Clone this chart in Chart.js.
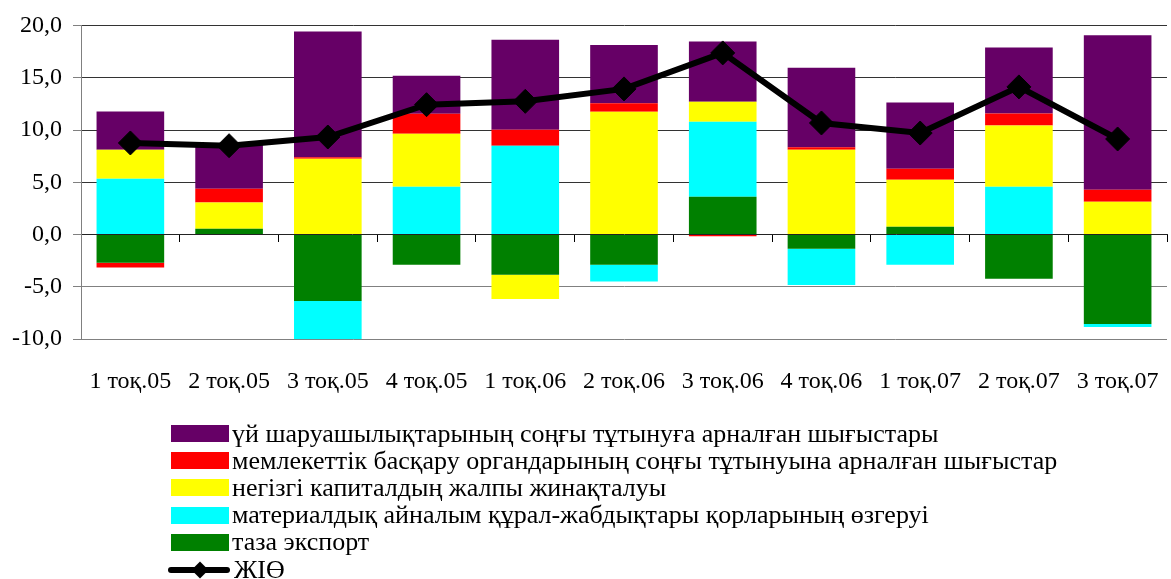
<!DOCTYPE html>
<html>
<head>
<meta charset="utf-8">
<script src="https://cdn.jsdelivr.net/npm/chart.js@4/dist/chart.umd.min.js"></script>
<style>
  body { margin: 0; overflow: hidden; background: #fff; }
  #wrap { position: relative; width: 1171px; height: 579px; overflow: hidden; }
  #chart { position: absolute; left: 0; top: 0; }
  #legend { position: absolute; left: 166px; top: 420px; font-family: "Liberation Serif", "Times New Roman", "DejaVu Serif", serif; font-size: 26px; color: #000; }
  .item { height: 27.2px; display: flex; align-items: center; white-space: nowrap; }
  .box { width: 58px; height: 17px; margin: 0 3px 0 5px; }
  .lineKey { position: relative; width: 62px; height: 17px; margin: 0 4px 0 2px; }
  .lineKey .bar { position: absolute; left: 0; right: 0; top: 6px; height: 6px; background: #000; border-radius: 3px; }
  .lineKey .dia { position: absolute; left: 26px; top: 3px; width: 12px; height: 12px; background: #000; transform: rotate(45deg); }
</style>
</head>
<body>
<div id="wrap">
  <canvas id="chart" width="1180" height="579"></canvas>
  <div id="legend"></div>
</div>
<script>
// quarters
const labels = ['1 тоқ.05', '2 тоқ.05', '3 тоқ.05', '4 тоқ.05', '1 тоқ.06', '2 тоқ.06',
                '3 тоқ.06', '4 тоқ.06', '1 тоқ.07', '2 тоқ.07', '3 тоқ.07'];

// contributions to growth, percentage points
const netExport  = [-2.70, 0.56, -6.34, -2.89, -3.85, -2.89, 3.62, -1.36, 0.75, -4.23, -8.54];
const inventory  = [5.34, 0, -3.67, 4.58, 8.50, -1.60, 7.18, -3.45, -2.89, 4.58, -0.29];
const capital    = [2.78, 2.52, 7.26, 5.07, -2.30, 11.75, 1.91, 8.12, 4.50, 5.84, 3.14];
const government = [-0.44, 1.31, 0.13, 1.91, 1.53, 0.80, -0.15, 0.22, 1.05, 1.15, 1.15];
const households = [3.64, 4.21, 12.03, 3.63, 8.61, 5.58, 5.75, 7.60, 6.32, 6.32, 14.77];
const gdp        = [8.76, 8.50, 9.33, 12.42, 12.74, 13.93, 17.37, 10.67, 9.71, 14.12, 9.14];

const yTicks = [-10, -5, 0, 5, 10, 15, 20];

const FONT = "'Liberation Serif', 'Times New Roman', 'DejaVu Serif', serif";

function bar(label, data, color) {
    return { type: 'bar', label: label, data: data, backgroundColor: color, borderWidth: 0,
             stack: 's', barPercentage: 0.685, categoryPercentage: 1, order: 2 };
}

const datasets = [
    bar('таза экспорт', netExport, '#008000'),
    bar('материалдық айналым құрал-жабдықтары қорларының өзгеруі', inventory, '#00FFFF'),
    bar('негізгі капиталдың жалпы жинақталуы', capital, '#FFFF00'),
    bar('мемлекеттік басқару органдарының соңғы тұтынуына арналған шығыстар', government, '#FF0000'),
    bar('үй шаруашылықтарының соңғы тұтынуға арналған шығыстары', households, '#660066'),
    {
        type: 'line', label: 'ЖІӨ', data: gdp, borderColor: '#000', backgroundColor: '#000',
        borderWidth: 6, pointStyle: 'rectRot', pointRadius: 12, pointBorderWidth: 1,
        pointBackgroundColor: '#000', pointBorderColor: '#000', tension: 0, order: 1
    }
];

const chart = new Chart(document.getElementById('chart'), {
    data: { labels: labels, datasets: datasets },
    options: {
        responsive: false,
        animation: false,
        layout: { padding: { top: 25, right: 3, bottom: 163, left: 0 } },
        plugins: { legend: { display: false }, tooltip: { enabled: false } },
        scales: {
            x: {
                type: 'category',
                stacked: true,
                position: 'bottom',
                offset: true,
                grid: { display: false },
                border: { display: false },
                ticks: { padding: 20, maxRotation: 0, autoSkip: false, color: '#000',
                         font: { family: FONT, size: 24 } }
            },
            xZero: {
                type: 'category',
                labels: labels,
                position: { y: 0 },
                offset: true,
                grid: { offset: true, drawOnChartArea: false, drawTicks: true, tickLength: 7, tickColor: '#000' },
                border: { display: true, color: '#222', width: 1 },
                ticks: { display: false }
            },
            y: {
                stacked: true,
                min: -10,
                max: 20,
                afterFit: s => { s.width = 81; },
                afterBuildTicks: s => { s.ticks = yTicks.map(v => ({ value: v })); },
                grid: {
                    color: c => c.tick && c.tick.value === 0 ? 'rgba(0,0,0,0)' : (c.tick && c.tick.value > 0 ? '#333' : '#808080'),
                    borderDash: [8, 6],
                    tickLength: 8,
                    tickColor: '#808080',
                    tickBorderDash: []
                },
                border: { color: '#808080', width: 1 },
                ticks: {
                    padding: 11, color: '#000',
                    font: { family: FONT, size: 24 },
                    callback: v => v.toFixed(1).replace('.', ',')
                }
            }
        }
    }
});

// legend: households first, net export last, then the GDP line
const legendOrder = [4, 3, 2, 1, 0, 5];
const legendEl = document.getElementById('legend');
legendOrder.forEach(i => {
    const ds = chart.data.datasets[i];
    const row = document.createElement('div');
    row.className = 'item';
    if (ds.type === 'line') {
        row.innerHTML = '<span class="lineKey"><span class="bar"></span><span class="dia"></span></span>';
    } else {
        row.innerHTML = '<span class="box" style="background:' + ds.backgroundColor + '"></span>';
    }
    const t = document.createElement('span');
    t.textContent = ds.label;
    row.appendChild(t);
    legendEl.appendChild(row);
});
</script>
</body>
</html>
